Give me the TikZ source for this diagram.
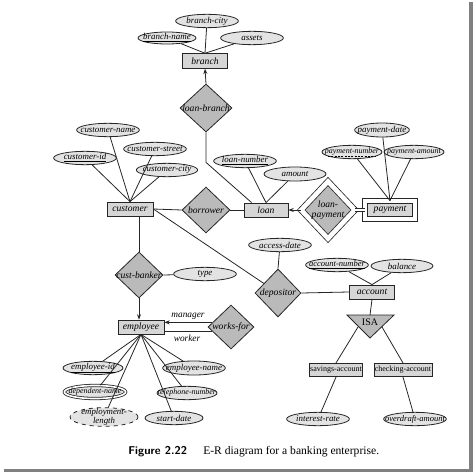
\documentclass[tikz,border=0pt]{standalone}
\usepackage{amsmath}
\usepackage{fontspec}
\setmainfont{Liberation Serif}
\usepackage{tikz}
\usetikzlibrary{shapes.geometric,arrows.meta,calc}

\tikzset{
  attr/.style={ellipse, draw=black!85, fill=black!11, line width=0.6pt, inner xsep=-20pt, inner ysep=-3pt,
    minimum width=47pt, minimum height=10pt, font=\fontsize{6.7}{7}\selectfont\itshape},
  ent/.style={rectangle, draw=black!85, fill=black!16, line width=0.6pt, inner sep=0pt,
    minimum width=34pt, minimum height=10.5pt, font=\fontsize{7.2}{7.5}\selectfont\itshape},
  rel/.style={diamond, draw=black!85, fill=black!27, line width=0.6pt, inner sep=-20pt,
    minimum width=36pt, minimum height=34.5pt, font=\fontsize{7.2}{7.5}\selectfont\itshape},
  lbl/.style={inner sep=0.75pt, font=\fontsize{7}{7.5}\selectfont\itshape},
  small/.style={font=\fontsize{6}{6.5}\selectfont\itshape},
  link/.style={draw=black!85, line width=0.6pt},
  tip/.style={-{Stealth[length=4pt,width=3pt]}},
}

\begin{document}
\begin{tikzpicture}[x=0.75pt,y=0.75pt,yscale=-1,xscale=1]
\useasboundingbox (0,0) rectangle (474,474);

%Shadow of the frame
\draw [color=black!50, line width=2.4] (4,470.5) -- (471,470.5) -- (471,2) ;

%Entity sets
\node [ent, minimum height=11pt] (branch) at (205,61) {branch};
\node [ent, minimum width=34.5pt] (customer) at (130,209) {customer};
\node [ent, minimum width=33pt] (loan) at (266,210) {loan};
\node [ent, double, double distance=3pt, minimum width=37.5pt, minimum height=13.5pt] (payment) at (390,210) {payment};
\node [ent] (account) at (372,292) {account};
\node [ent, minimum width=34.5pt] (employee) at (141,327) {employee};
\node [ent, minimum width=40pt, minimum height=10pt, font=\fontsize{6}{6.5}\selectfont] (savings) at (336,370) {savings-account};
\node [ent, minimum width=43.5pt, minimum height=10pt, font=\fontsize{6}{6.5}\selectfont] (checking) at (403,370) {checking-account};

%Relationship sets
\node [rel, minimum width=39pt, minimum height=36pt] (loanbranch) at (206,108) {loan-branch};
\node [rel] (borrower) at (206,210) {borrower};
\node [rel, double, double distance=3.5pt, minimum width=40.5pt, minimum height=43pt, align=center] (loanpayment) at (328,210) {loan-\\payment};
\node [rel] (custbanker) at (139,275) {cust-banker};
\node [rel, minimum width=34.5pt, minimum height=36pt] (depositor) at (278,293) {depositor};
\node [rel, minimum width=34.5pt, minimum height=33pt] (worksfor) at (231,327) {works-for};

%Shape: ISA triangle
\draw [link, fill=black!27] (347,315) -- (394,315) -- (370,338) -- cycle ;
\node [inner sep=0pt, font=\fontsize{7.5}{8}\selectfont] (isa) at (370,322) {ISA};
\coordinate (isatop) at (370,315);
\coordinate (isaleft) at (358,327);
\coordinate (isaright) at (382,327);

%Attributes
\node [attr] (branchcity) at (207,21) {branch-city};
\node [attr, minimum width=43.5pt, minimum height=9pt] (branchname) at (167,38) {\underline{branch-name}};
\node [attr] (assets) at (252,38) {assets};
\node [attr] (customername) at (108,130) {customer-name};
\node [attr] (customerstreet) at (155,149) {customer-street};
\node [attr] (customerid) at (85,158) {\underline{customer-id}};
\node [attr, minimum width=46pt] (customercity) at (167,170) {customer-city};
\node [attr] (loannumber) at (245,161) {\underline{loan-number}};
\node [attr, minimum width=46.5pt, minimum height=10.5pt] (amount) at (295,174) {amount};
\node [attr, minimum width=41pt, minimum height=10.5pt] (paymentdate) at (382,130) {payment-date};
\node [attr, small, minimum width=45pt] (paymentnumber) at (352,152) {payment-number};
\draw [line width=0.5pt, dash pattern={on 1.5pt off 1pt}] ($(paymentnumber.center)+(-24,4.5)$) -- ($(paymentnumber.center)+(24,4.5)$) ;
\node [attr, small, minimum width=45pt] (paymentamount) at (414,152) {payment-amount};
\node [attr] (type) at (205,274) {type};
\node [attr] (accessdate) at (280,245) {access-date};
\node [attr, font=\fontsize{6.4}{7}\selectfont\itshape] (accountnumber) at (337,265) {\underline{account-number}};
\node [attr, minimum width=46.5pt] (balance) at (402,266) {balance};
\node [attr] (interestrate) at (318,419) {interest-rate};
\node [attr, font=\fontsize{6.4}{7}\selectfont\itshape] (overdraft) at (415,419) {overdraft-amount};
\node [attr, minimum width=45pt] (employeeid) at (93,368) {\underline{employee-id}};
\node [attr, minimum height=10.5pt] (employeename) at (194,368) {employee-name};
\node [attr, small, double, double distance=1.2pt, minimum width=46pt, minimum height=9.8pt] (dependentname) at (95,392) {dependent-name};
\node [attr, small, minimum width=45pt] (telephone) at (187,393) {telephone-number};
\node [attr, dashed, align=center, minimum width=51pt, minimum height=14pt, font=\fontsize{6.6}{6.6}\selectfont\itshape] (employmentlength) at (104,417) {employment-\\length};
\node [attr, minimum width=43.5pt] (startdate) at (174,418) {start-date};

%Role labels
\node [lbl] (manager) at (188,316) {manager};
\node [lbl] (worker) at (187,338) {worker};

%Straight Lines: attributes
\draw [link] (branch.north) -- (branchname) ;
\draw [link] (branch.north) -- (branchcity) ;
\draw [link] (branch.north) -- (assets) ;
\draw [link] (customer.north) -- (customerid) ;
\draw [link] (customer.north) -- (customername) ;
\draw [link] (customer.north) -- (customerstreet) ;
\draw [link] (customer.north) -- (customercity) ;
\draw [link] (loan.north) -- (loannumber) ;
\draw [link] (loan.north) -- (amount) ;
\draw [link] (payment.north) -- (paymentnumber) ;
\draw [link] (payment.north) -- (paymentdate) ;
\draw [link] (payment.north) -- (paymentamount) ;
\draw [link] (account.north) -- (accountnumber) ;
\draw [link] (account.north) -- (balance) ;
\draw [link] (depositor.north) -- (accessdate) ;
\draw [link] (custbanker.east) -- (type) ;
\draw [link] (savings.south) -- (interestrate) ;
\draw [link] (checking.south) -- (overdraft) ;
\foreach \a in {employeeid,dependentname,employmentlength,startdate,telephone,employeename}
  \draw [link] (employee.south) -- (\a) ;

%Straight Lines: relationships
\draw [link, tip] (loanbranch.north) -- (branch.south) ;
\draw [link] (loanbranch.south) -- ++(0,30) -- ([xshift=6pt]loan.north west) ;
\draw [link] (customer.east) -- (borrower.west) ;
\draw [link] (borrower.east) -- (loan.west) ;
\draw [link, tip] (loanpayment.west) -- (loan.east) ;
\draw [link, double, double distance=1.2pt] (loanpayment.east) -- (payment.west) ;
\draw [link] (customer.east) -- (depositor) ;
\draw [link] (depositor.east) -- (account.west) ;
\draw [link] (customer.south -| custbanker.north) -- (custbanker.north) ;
\draw [link, tip] (custbanker.south) -- (custbanker.south |- employee.north) ;
\draw [link, tip] (worksfor.166) -- (worksfor.166 -| employee.east) ;
\draw [link] (worksfor.194) -- (worksfor.194 -| employee.east) ;
\draw [link] (account.south) -- (isatop) ;
\draw [link] (isaleft) -- (savings.north) ;
\draw [link] (isaright) -- (checking.north) ;

% Text Node: caption
\node [anchor=west, inner sep=0pt, font=\fontsize{8.5}{9}\selectfont\sffamily\bfseries] (fignum) at (128,452) {Figure 2.22};
\node [anchor=west, inner sep=0pt, font=\fontsize{8.7}{9}\selectfont] (figtext) at (203,452) {E-R diagram for a banking enterprise.};

\end{tikzpicture}
\end{document}
